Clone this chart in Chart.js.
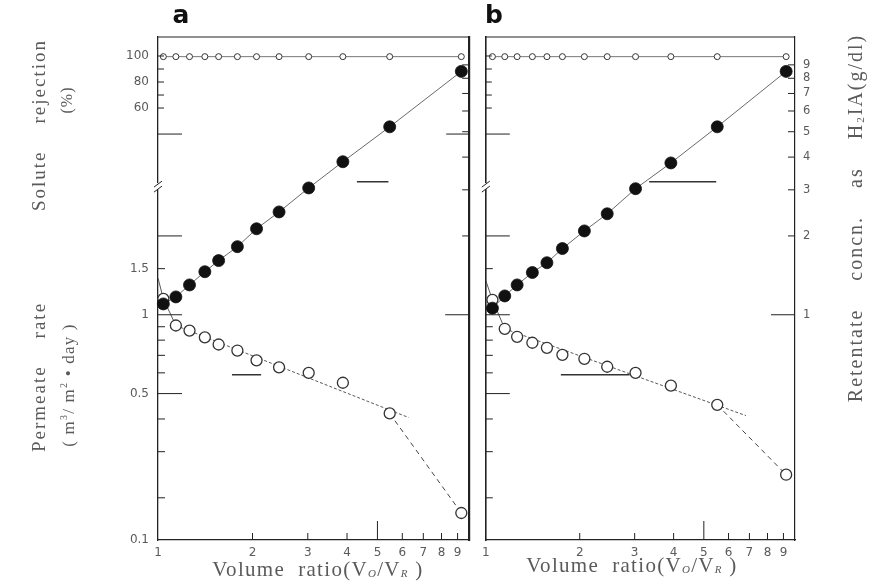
<!DOCTYPE html>
<html>
<head>
<meta charset="utf-8">
<script src="https://cdn.jsdelivr.net/npm/chart.js@4.4.1/dist/chart.umd.min.js"></script>
<style>
  html, body { margin: 0; padding: 0; background: #fff; }
  #wrap { position: relative; width: 895px; height: 584px; overflow: hidden; }
  #cA { position: absolute; left: 0; top: 0; }
  #cB { position: absolute; left: 476px; top: 0; }
</style>
</head>
<body>
<div id="wrap">
  <canvas id="cA" width="476" height="584"></canvas>
  <canvas id="cB" width="419" height="584"></canvas>
</div>
<script>
// volume ratio V0/VR for each sample
const volRatioA = [1.04, 1.14, 1.26, 1.41, 1.56, 1.79, 2.06, 2.43, 3.02, 3.88, 5.47, 9.25];
const volRatioB = [1.05, 1.15, 1.26, 1.41, 1.57, 1.76, 2.07, 2.45, 3.02, 3.92, 5.52, 9.18];

// solute rejection (%)
const rejectionA = [99.5, 99.5, 99.5, 99.5, 99.5, 99.5, 99.5, 99.5, 99.5, 99.5, 99.5, 99.5];
const rejectionB = [99.5, 99.5, 99.5, 99.5, 99.5, 99.5, 99.5, 99.5, 99.5, 99.5, 99.5, 99.5];

// retentate concn. as H2IA (g/dl)
const concA = [1.10, 1.17, 1.30, 1.46, 1.61, 1.82, 2.13, 2.47, 3.05, 3.84, 5.22, 8.5];
const concB = [1.06, 1.18, 1.30, 1.45, 1.58, 1.79, 2.09, 2.43, 3.03, 3.80, 5.22, 8.5];

// permeate rate (m3/m2.day)
const permA = [1.15, 0.91, 0.87, 0.82, 0.77, 0.73, 0.67, 0.63, 0.60, 0.55, 0.42, 0.175];
const permB = [1.14, 0.884, 0.824, 0.782, 0.748, 0.703, 0.679, 0.633, 0.600, 0.536, 0.453, 0.245];

// initial permeate rate at V0/VR = 1 and end of the straight trend line
const permStartA = 1.38;
const permStartB = 1.35;
const trendEndA = { x: 6.29, y: 0.405 };
const trendEndB = { x: 6.82, y: 0.412 };

// little axis pointers drawn inside the panels
const arrowConcA = { x: [4.30, 5.42], y: 3.22 };
const arrowPermA = { x: [1.72, 2.13], y: 0.59 };
const arrowConcB = { x: [3.34, 5.48], y: 3.22 };
const arrowPermB = { x: [1.74, 2.89], y: 0.59 };

// axes
const xMin = 1, xMax = 9.8;
const yMin = 0.138, yMax = 11.5;       // shared by permeate (left) and concn. (right)
const rejMin = -272, rejMax = 114.6;   // solute rejection segment
const xTickVals = [1, 2, 3, 4, 5, 6, 7, 8, 9];
const rejTickVals = [100, 80, 60];
const permTickVals = [0.5, 1, 1.5];
const concTickVals = [1, 2, 3, 4, 5, 6, 7, 8, 9];

// inward tick marks
const xMinorTicks = [2, 3, 4, 6, 7, 8, 9];
const xMajorTicks = [5];
const rejMinorTicks = [100, 90, 80, 70, 60];
const rejMajorTicks = [40];
const rejBreak = 0;
const permMinorTicks = [0.2, 0.3, 0.4, 0.6, 0.7, 0.8, 0.9, 1.5];
const permMajorTicks = [0.5, 1, 2];
const concMinorTicks = [2, 3, 4, 5, 6, 7, 8, 9];
const concMajorTicks = [1];

const INK = '#222';
const TEXT = '#5a5a5a';
const SERIF = '"Liberation Serif", "DejaVu Serif", serif';
const SANS = '"DejaVu Sans", sans-serif';

function pts(xs, ys) {
  return xs.map((x, i) => ({ x, y: ys[i] }));
}

function buildDatasets(vr, rej, conc, perm, start, trendEnd, arrC, arrP) {
  const n = vr.length;
  return [
    {
      label: 'conc', data: pts(vr, conc), yAxisID: 'y2',
      borderColor: '#444', borderWidth: 0.8, backgroundColor: '#111',
      pointRadius: 6, pointBorderColor: '#111', pointBackgroundColor: '#111',
      tension: 0, clip: false
    },
    {
      label: 'perm', data: pts(vr, perm), yAxisID: 'yp', showLine: false,
      pointRadius: 5.5, pointBorderWidth: 1.3, pointBorderColor: '#333',
      pointBackgroundColor: '#fff', clip: false
    },
    {
      label: 'rej', data: pts(vr, rej), yAxisID: 'yr',
      borderColor: '#555', borderWidth: 0.8,
      pointRadius: 3, pointBorderWidth: 1, pointBorderColor: '#333',
      pointBackgroundColor: '#fff', clip: false
    },
    {
      label: 'permStart', data: pts([1, vr[0], vr[1]], [start, perm[0], perm[1]]), yAxisID: 'yp',
      borderColor: '#444', borderWidth: 0.9, pointRadius: 0
    },
    {
      label: 'permTrend', data: pts([vr[1], trendEnd.x], [perm[1], trendEnd.y]), yAxisID: 'yp',
      borderColor: '#444', borderWidth: 0.9, borderDash: [3, 2], pointRadius: 0
    },
    {
      label: 'permDrop', data: pts([vr[n - 2], vr[n - 1]], [perm[n - 2], perm[n - 1]]), yAxisID: 'yp',
      borderColor: '#444', borderWidth: 1, borderDash: [5, 4], pointRadius: 0
    },
    {
      label: 'arrowConc', data: pts(arrC.x, [arrC.y, arrC.y]), yAxisID: 'y2',
      borderColor: '#333', borderWidth: 1.3, pointRadius: 0
    },
    {
      label: 'arrowPerm', data: pts(arrP.x, [arrP.y, arrP.y]), yAxisID: 'yp',
      borderColor: '#333', borderWidth: 1.3, pointRadius: 0
    }
  ];
}

function buildScales(panel) {
  const isA = panel === 'a';
  const tickFont = { family: SANS, size: 12 };
  return {
    x: {
      type: 'logarithmic', min: xMin, max: xMax, position: 'bottom',
      grid: { display: false, drawTicks: false },
      border: { display: true, color: INK, width: 1.2 },
      afterBuildTicks: s => { s.ticks = xTickVals.map(v => ({ value: v })); },
      afterFit: s => { s.height = 44; },
      ticks: { autoSkip: false, maxRotation: 0, padding: 6, color: TEXT, font: tickFont,
               callback: v => String(v) }
    },
    yp: {
      type: 'logarithmic', min: yMin, max: yMax, position: 'left', weight: 1,
      grid: { display: false, drawTicks: false },
      border: { display: true, color: INK, width: isA ? 1.3 : 1.6 },
      afterBuildTicks: s => { s.ticks = [yMin, ...permTickVals].map(v => ({ value: v })); },
      afterFit: s => { s.width = isA ? 158 : 5; },
      ticks: { display: isA, padding: 9, color: TEXT, font: tickFont,
               callback: v => (v === yMin ? '0.1' : String(v)) }
    },
    yr: {
      type: 'linear', min: rejMin, max: rejMax, position: 'left', weight: 0,
      grid: { display: false, drawTicks: false },
      border: { display: false },
      afterBuildTicks: s => { s.ticks = rejTickVals.map(v => ({ value: v })); },
      // zero-width band sharing the left edge: keep its labels from being clipped away
      afterFit: s => { s.width = 0; s._computeLabelArea = () => null; },
      ticks: { display: isA, padding: 9, color: TEXT, font: tickFont,
               callback: v => String(v) }
    },
    y2: {
      type: 'logarithmic', min: yMin, max: yMax, position: 'right',
      grid: { display: false, drawTicks: false },
      border: { display: true, color: INK, width: isA ? 2.2 : 1.2 },
      afterBuildTicks: s => { s.ticks = concTickVals.map(v => ({ value: v })); },
      afterFit: s => { s.width = isA ? 0 : 100; },
      ticks: { display: !isA, padding: 8, color: TEXT, font: { family: SANS, size: 11.5 },
               callback: v => String(v) }
    }
  };
}

function line(ctx, x1, y1, x2, y2) {
  ctx.beginPath();
  ctx.moveTo(x1, y1);
  ctx.lineTo(x2, y2);
  ctx.stroke();
}

// text made of runs with their own font and baseline shift, centred on (cx, cy)
function drawRuns(ctx, runs, cx, cy, rot, spacing) {
  ctx.save();
  ctx.translate(cx, cy);
  ctx.rotate(rot || 0);
  ctx.textBaseline = 'middle';
  ctx.textAlign = 'left';
  ctx.letterSpacing = (spacing || 0) + 'px';
  let w = 0;
  runs.forEach(r => { ctx.font = r.font; w += ctx.measureText(r.t).width; });
  let x = -w / 2;
  runs.forEach(r => {
    ctx.font = r.font;
    ctx.fillText(r.t, x, r.dy || 0);
    x += ctx.measureText(r.t).width;
  });
  ctx.restore();
}

function volumeTitle(ctx, cx, cy) {
  const big = '21px ' + SERIF, sub = 'italic 11px ' + SERIF;
  drawRuns(ctx, [
    { t: 'Volume  ratio(V', font: big },
    { t: 'O', font: sub, dy: 4 },
    { t: '/V', font: big },
    { t: 'R', font: sub, dy: 4 },
    { t: ' )', font: big }
  ], cx, cy, 0, 1.3);
}

function decoPlugin(panel) {
  const isA = panel === 'a';
  return {
    id: 'deco' + panel,
    afterDraw(chart) {
      const { ctx, chartArea: ca, scales } = chart;
      ctx.save();
      ctx.strokeStyle = INK;
      ctx.lineWidth = 1.2;
      line(ctx, ca.left, ca.top, ca.right, ca.top);

      const tick = (scale, v, side, len) => {
        const p = scale.getPixelForValue(v);
        if (side === 'left') line(ctx, ca.left, p, ca.left + len, p);
        else if (side === 'right') line(ctx, ca.right, p, ca.right - len, p);
        else line(ctx, p, ca.bottom, p, ca.bottom - len);
      };
      ctx.lineWidth = 1;
      xMinorTicks.forEach(v => tick(scales.x, v, 'bottom', 7));
      xMajorTicks.forEach(v => tick(scales.x, v, 'bottom', 19));
      rejMinorTicks.forEach(v => tick(scales.yr, v, 'left', 6));
      rejMajorTicks.forEach(v => tick(scales.yr, v, 'left', 24));
      permMinorTicks.forEach(v => tick(scales.yp, v, 'left', 7));
      permMajorTicks.forEach(v => tick(scales.yp, v, 'left', 24));
      concMinorTicks.forEach(v => tick(scales.y2, v, 'right', 7));
      concMajorTicks.forEach(v => tick(scales.y2, v, 'right', 24));
      if (isA) rejMajorTicks.forEach(v => tick(scales.yr, v, 'right', 23));

      // axis break on the left spine
      const pb = scales.yr.getPixelForValue(rejBreak);
      ctx.fillStyle = '#fff';
      ctx.fillRect(ca.left - 3, pb - 3, 6, 6);
      line(ctx, ca.left - 4, pb + 1, ca.left + 4, pb - 5);
      line(ctx, ca.left - 4, pb + 6, ca.left + 4, pb);

      ctx.fillStyle = '#111';
      ctx.font = 'bold 25px ' + SANS;
      ctx.textAlign = 'center';
      ctx.textBaseline = 'middle';
      ctx.fillText(panel, isA ? 181 : 18, 16);

      ctx.fillStyle = TEXT;
      const up = -Math.PI / 2;
      if (isA) {
        const t = '19px ' + SERIF;
        drawRuns(ctx, [{ t: 'Solute    rejection', font: t }], 40, 125, up, 2);
        drawRuns(ctx, [{ t: '(%)', font: '16px ' + SERIF }], 68, 100, up, 1);
        drawRuns(ctx, [{ t: 'Permeate    rate', font: t }], 40, 377, up, 2);
        drawRuns(ctx, [
          { t: '( m', font: '17px ' + SERIF },
          { t: '3', font: '10px ' + SERIF, dy: -6 },
          { t: '/ m', font: '17px ' + SERIF },
          { t: '2', font: '10px ' + SERIF, dy: -6 },
          { t: ' \u2022 day )', font: '17px ' + SERIF }
        ], 70, 385, up, 1.2);
        volumeTitle(ctx, 318, 570);
      } else {
        volumeTitle(ctx, 156, 566);
        drawRuns(ctx, [
          { t: 'Retentate    concn.    as    H', font: '20px ' + SERIF },
          { t: '2', font: '11px ' + SERIF, dy: 4 },
          { t: 'IA(g/dl)', font: '20px ' + SERIF }
        ], 381, 218, up, 2);
      }
      ctx.restore();
    }
  };
}

function makePanel(canvasId, panel, datasets) {
  const isA = panel === 'a';
  return new Chart(document.getElementById(canvasId), {
    type: 'line',
    data: { datasets },
    options: {
      responsive: false,
      animation: false,
      layout: { padding: { top: 37, right: isA ? 5 : 0, left: 0, bottom: 0 } },
      plugins: { legend: { display: false }, tooltip: { enabled: false } },
      scales: buildScales(panel)
    },
    plugins: [decoPlugin(panel)]
  });
}

makePanel('cA', 'a', buildDatasets(volRatioA, rejectionA, concA, permA, permStartA, trendEndA, arrowConcA, arrowPermA));
makePanel('cB', 'b', buildDatasets(volRatioB, rejectionB, concB, permB, permStartB, trendEndB, arrowConcB, arrowPermB));
</script>
</body>
</html>
